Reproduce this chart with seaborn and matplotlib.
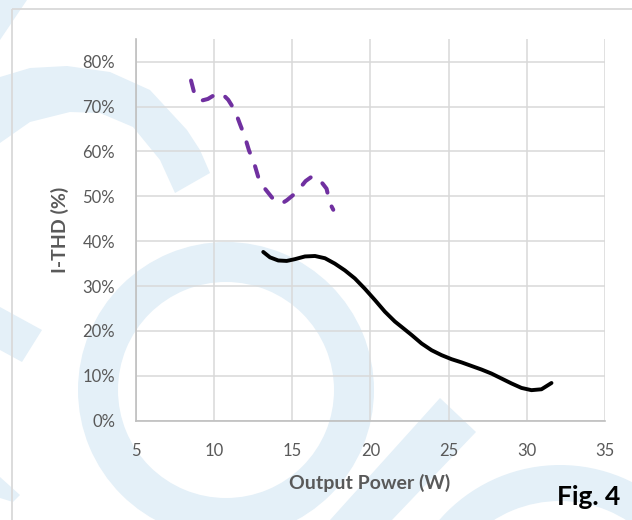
import numpy as np
import pandas as pd
import seaborn as sns
import matplotlib.pyplot as plt
from matplotlib.patches import Wedge, Polygon, Rectangle
from matplotlib.ticker import PercentFormatter

# dashed purple curve (low power range)
power_dashed = [8.52, 8.77, 9.16, 9.60, 10.12, 10.50, 10.90, 11.33, 11.65, 11.97,
                12.23, 12.54, 12.82, 13.25, 13.82, 14.32, 14.64, 15.27, 15.85, 16.25,
                16.70, 17.19, 17.40, 17.62]
thd_dashed = [75.8, 72.4, 71.3, 71.7, 72.8, 72.9, 71.5, 69.1, 66.1, 63.2,
              60.2, 57.6, 54.3, 51.7, 49.2, 48.4, 49.1, 50.9, 53.4, 54.4,
              53.9, 51.7, 48.5, 47.0]

# solid black curve
power_solid = [13.14, 13.57, 14.10, 14.64, 15.17, 15.81, 16.45, 17.09, 17.72, 18.36,
               19.00, 19.64, 20.28, 20.92, 21.56, 21.99, 22.63, 23.27, 23.91, 24.55,
               25.19, 25.82, 26.46, 27.10, 27.74, 28.38, 29.02, 29.66, 30.30, 30.94,
               31.58]
thd_solid = [37.6, 36.4, 35.7, 35.6, 36.0, 36.6, 36.7, 36.2, 35.0, 33.5,
             31.7, 29.4, 26.9, 24.3, 22.1, 20.9, 19.1, 17.2, 15.7, 14.6,
             13.7, 13.0, 12.2, 11.4, 10.5, 9.4, 8.3, 7.3, 6.8, 7.0,
             8.4]

x_ticks = [5, 10, 15, 20, 25, 30, 35]
y_ticks = [0, 10, 20, 30, 40, 50, 60, 70, 80]

sns.set_theme(style='white')
plt.rcParams['font.family'] = ['Lato', 'DejaVu Sans']

fig = plt.figure(figsize=(6.32, 5.2), dpi=100)

# background watermark, drawn in pixel units
bg = fig.add_axes([0, 0, 1, 1], zorder=0)
bg.set_xlim(0, 632)
bg.set_ylim(520, 0)
bg.axis('off')
wm = '#e4f0f8'
bg.add_patch(Polygon([(0, 0), (27, 0), (0, 40)], color=wm, lw=0))
bg.add_patch(Polygon([(0, 77), (30, 68), (67, 66), (110, 72), (150, 90), (187, 130),
                      (200, 150), (210, 173), (175, 193), (160, 160), (133, 127),
                      (100, 113), (70, 112), (30, 122), (0, 143)], color=wm, lw=0))
bg.add_patch(Polygon([(0, 307), (42, 330), (22, 362), (0, 350)], color=wm, lw=0))
bg.add_patch(Polygon([(0, 477), (20, 495), (13, 502), (0, 498)], color=wm, lw=0))
bg.add_patch(Wedge((226, 390), 148, 0, 360, width=40, color=wm, lw=0))
bg.add_patch(Polygon([(440, 398), (476, 432), (392, 520), (330, 520)], color=wm, lw=0))
bg.add_patch(Wedge((560, 625), 160, 0, 360, width=36, color=wm, lw=0))
bg.add_patch(Rectangle((12.3, 9.3), 700, 600, fill=False, ec='#d9d9d9', lw=1.3, zorder=5))

ax = fig.add_axes([0.2152, 0.191, 0.742, 0.7335], zorder=1)
ax.set_facecolor('none')

df_dashed = pd.DataFrame({'power': power_dashed, 'thd': thd_dashed})
df_solid = pd.DataFrame({'power': power_solid, 'thd': thd_solid})

sns.lineplot(data=df_dashed, x='power', y='thd', sort=False, ax=ax, color='#7030a0',
             lw=2.9, linestyle=(0, (2.7, 3.6)), dash_capstyle='round', zorder=3)
sns.lineplot(data=df_solid, x='power', y='thd', sort=False, ax=ax, color='black',
             lw=2.8, solid_capstyle='round', solid_joinstyle='round', zorder=3)

ax.set_xlim(5, 35)
ax.set_ylim(0, 85)
ax.set_xticks(x_ticks)
ax.set_yticks(y_ticks)
ax.yaxis.set_major_formatter(PercentFormatter(100, decimals=0))

ax.grid(True, color='#d9d9d9', lw=1.1)
for side in ['top', 'right']:
    ax.spines[side].set_visible(False)
for side in ['left', 'bottom']:
    ax.spines[side].set_color('#bfbfbf')
    ax.spines[side].set_linewidth(1.2)
ax.tick_params(axis='both', length=0, labelsize=12, labelcolor='#595959')
ax.tick_params(axis='y', pad=15)
ax.tick_params(axis='x', pad=16)

ax.set_xlabel('Output Power (W)', fontsize=14, fontweight='bold', color='#595959', va='center')
ax.set_ylabel('I-THD (%)', fontsize=14, fontweight='bold', color='#595959', va='center')
ax.xaxis.set_label_coords(0.499, -0.163)
ax.yaxis.set_label_coords(-0.162, 0.5)

fig.text(0.932, 0.044, 'Fig. 4', ha='center', va='center', fontsize=19,
         fontweight='bold', color='black')

fig.savefig('out.png', dpi=100)
